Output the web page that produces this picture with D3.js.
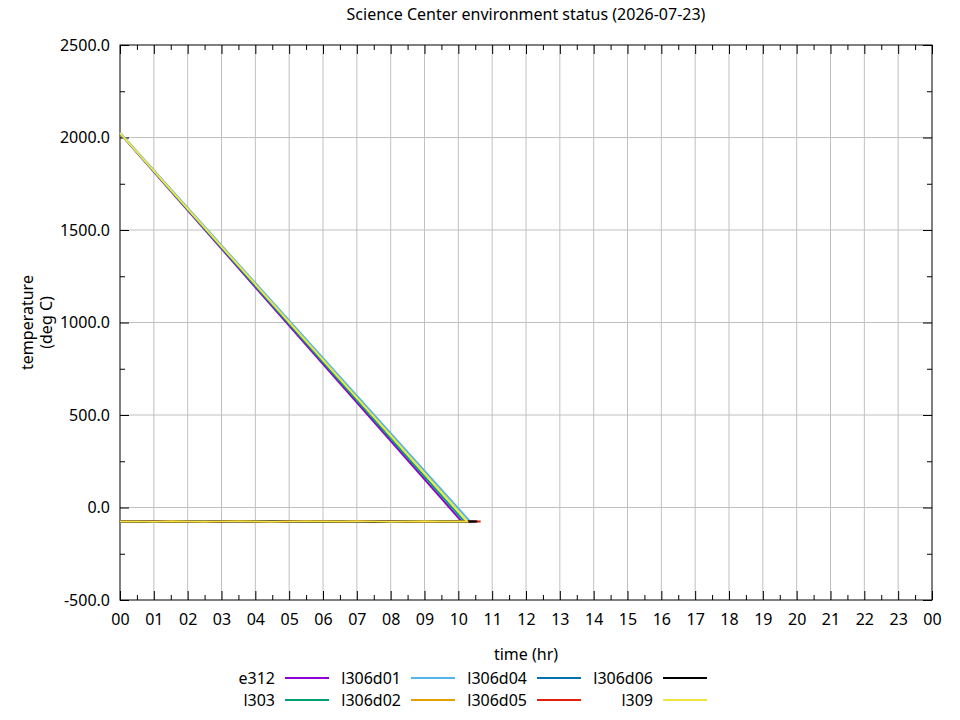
<!DOCTYPE html>
<html>
<head>
<meta charset="utf-8">
<script src="https://cdn.jsdelivr.net/npm/d3@7"></script>
<style>
    body { margin: 0; background: #fff; }
    text { font-family: "Noto Sans", sans-serif; }
</style>
</head>
<body>
<script>
// series names, in legend / draw order
const seriesNames = ['e312', 'l303', 'l306d01', 'l306d02', 'l306d04', 'l306d05', 'l306d06', 'l309'];
const seriesColors = ['#9400d3', '#009e73', '#56b4e9', '#e69f00', '#0072b2', '#e51e10', '#000000', '#f0e442'];

// sample times (hr)
const hours = [0, 0.5, 1, 1.5, 2, 2.5, 3, 3.5, 4, 4.5, 5, 5.5, 6, 6.5, 7, 7.5, 8, 8.5, 9, 9.5, 10];

// temperatures (deg C) at the sample times
const e312    = [-76, -75, -77, -74, -76, -78, -75, -74, -76, -77, -75, -74, -77, -76, -74, -75, -77, -76, -74, -76, -75];
const l303    = [-75, -76, -76, -75, -77, -77, -74, -75, -75, -78, -76, -73, -76, -77, -75, -74, -76, -77, -75, -75, -76];
const l306d01 = [-77, -74, -76, -75, -75, -76, -76, -73, -77, -76, -74, -75, -78, -75, -75, -76, -76, -75, -73, -77, -76];
const l306d02 = [-76, -76, -78, -74, -76, -77, -75, -74, -75, -77, -76, -74, -76, -76, -74, -76, -78, -76, -75, -76, -74];
const l306d04 = [-75, -75, -77, -76, -75, -78, -74, -75, -76, -76, -75, -75, -77, -75, -75, -75, -77, -75, -74, -75, -76];
const l306d05 = [-74, -76, -76, -74, -77, -77, -76, -73, -77, -77, -74, -74, -76, -77, -73, -76, -76, -77, -74, -77, -75];
const l306d06 = [-76, -75, -77, -75, -76, -77, -75, -74, -76, -76, -75, -74, -77, -76, -75, -75, -77, -76, -75, -76, -76];
const l309    = [-76, -75, -77, -74, -76, -77, -75, -74, -76, -77, -75, -74, -76, -76, -74, -75, -77, -76, -74, -76, -76];
const seriesValues = [e312, l303, l306d01, l306d02, l306d04, l306d05, l306d06, l309];

// last reading of each series
const endHours  = [10.1, 10.18, 10.35, 10.5, 10.52, 10.66, 10.56, 10.27];
const endValues = [-76, -76, -76, -76, -76, -76, -76, -76];
// reading logged against 00 after the last one (null = none)
const wrapValues = [2022, 2024, 2026, null, null, null, null, 2024];

// axis ticks
const xTicks = d3.range(0, 25);
const xMinorTicks = d3.range(0.5, 24, 1);
const yTicks = [-500, 0, 500, 1000, 1500, 2000, 2500];
const yMinorTicks = [-250, 250, 750, 1250, 1750, 2250];

const fontSize = 16;

/**
 * Build the svg and scales
 */
const initChart = () => {
    let width = 960, height = 720;
    let margin = {top: 45, right: 28, bottom: 120, left: 120};
    let svg = d3.select('body').append('svg')
        .attr('width', width)
        .attr('height', height);
    let x = d3.scaleLinear().domain([0, 24]).range([margin.left, width - margin.right]);
    let y = d3.scaleLinear().domain([-500, 2500]).range([height - margin.bottom, margin.top]);
    return {svg, x, y, width, height, margin};
};

/**
 * Grid, frame, ticks and labels
 */
const renderAxes = ({svg, x, y}) => {
    let [x0, x1] = x.range(), [y0, y1] = y.range();

    // grid
    let grid = svg.append('g').attr('stroke', '#c0c0c0').attr('stroke-width', 1);
    grid.selectAll('.gx').data(xTicks.slice(1, -1)).enter().append('line')
        .attr('x1', d => x(d)).attr('x2', d => x(d))
        .attr('y1', y1).attr('y2', y0);
    grid.selectAll('.gy').data(yTicks.slice(1, -1)).enter().append('line')
        .attr('x1', x0).attr('x2', x1)
        .attr('y1', d => y(d)).attr('y2', d => y(d));

    let fmtHour = h => String(h % 24).padStart(2, '0');
    let fmtTemp = v => v.toFixed(1); // plain hyphen for negatives

    // bottom
    svg.append('g')
        .attr('transform', `translate(0,${y0})`)
        .call(d3.axisBottom(x).tickValues(xTicks).tickFormat(fmtHour).tickSizeInner(-9).tickSizeOuter(0).tickPadding(14))
        .call(g => g.select('.domain').remove());
    svg.append('g')
        .attr('transform', `translate(0,${y0})`)
        .call(d3.axisBottom(x).tickValues(xMinorTicks).tickFormat('').tickSizeInner(-5).tickSizeOuter(0))
        .call(g => g.select('.domain').remove());
    // top (mirror)
    svg.append('g')
        .attr('transform', `translate(0,${y1})`)
        .call(d3.axisTop(x).tickValues(xTicks).tickFormat('').tickSizeInner(-9).tickSizeOuter(0))
        .call(g => g.select('.domain').remove());
    svg.append('g')
        .attr('transform', `translate(0,${y1})`)
        .call(d3.axisTop(x).tickValues(xMinorTicks).tickFormat('').tickSizeInner(-5).tickSizeOuter(0))
        .call(g => g.select('.domain').remove());

    // left
    svg.append('g')
        .attr('transform', `translate(${x0},0)`)
        .call(d3.axisLeft(y).tickValues(yTicks).tickFormat(fmtTemp).tickSizeInner(-9).tickSizeOuter(0).tickPadding(10))
        .call(g => g.select('.domain').remove());
    svg.append('g')
        .attr('transform', `translate(${x0},0)`)
        .call(d3.axisLeft(y).tickValues(yMinorTicks).tickFormat('').tickSizeInner(-5).tickSizeOuter(0))
        .call(g => g.select('.domain').remove());
    // right (mirror)
    svg.append('g')
        .attr('transform', `translate(${x1},0)`)
        .call(d3.axisRight(y).tickValues(yTicks).tickFormat('').tickSizeInner(-9).tickSizeOuter(0))
        .call(g => g.select('.domain').remove());
    svg.append('g')
        .attr('transform', `translate(${x1},0)`)
        .call(d3.axisRight(y).tickValues(yMinorTicks).tickFormat('').tickSizeInner(-5).tickSizeOuter(0))
        .call(g => g.select('.domain').remove());

    svg.selectAll('.tick text')
        .attr('font-family', '"Noto Sans", sans-serif')
        .attr('font-size', fontSize)
        .attr('fill', '#000');

    // frame
    svg.append('rect')
        .attr('x', x0).attr('y', y1)
        .attr('width', x1 - x0).attr('height', y0 - y1)
        .attr('fill', 'none').attr('stroke', '#000').attr('stroke-width', 1);

    // title
    svg.append('text')
        .attr('x', (x0 + x1) / 2).attr('y', 20)
        .attr('text-anchor', 'middle').attr('font-size', fontSize)
        .text('Science Center environment status (2026-07-23)');

    // x label
    svg.append('text')
        .attr('x', (x0 + x1) / 2).attr('y', 660)
        .attr('text-anchor', 'middle').attr('font-size', fontSize)
        .text('time (hr)');

    // y label, two lines
    let cy = (y0 + y1) / 2;
    svg.append('text')
        .attr('transform', `translate(33,${cy}) rotate(-90)`)
        .attr('text-anchor', 'middle').attr('font-size', fontSize)
        .text('temperature');
    svg.append('text')
        .attr('transform', `translate(52,${cy}) rotate(-90)`)
        .attr('text-anchor', 'middle').attr('font-size', fontSize)
        .text('(deg C)');
};

/**
 * Data lines and legend
 */
const renderSeries = ({svg, x, y}) => {
    let series = seriesNames.map((name, i) => {
        let pts = hours.map((h, j) => [h, seriesValues[i][j]]);
        pts.push([endHours[i], endValues[i]]);
        if (wrapValues[i] !== null) pts.push([0, wrapValues[i]]);
        return {name, color: seriesColors[i], pts};
    });

    let line = d3.line().x(d => x(d[0])).y(d => y(d[1]));

    svg.append('g').selectAll('path')
        .data(series)
        .enter()
        .append('path')
        .attr('d', d => line(d.pts))
        .attr('fill', 'none')
        .attr('stroke', d => d.color)
        .attr('stroke-width', 2)
        .attr('stroke-linejoin', 'round');

    // legend: 4 columns x 2 rows, filled column by column
    let colRight = [275, 401, 527, 653], rowY = [678, 700];
    let legend = svg.append('g').selectAll('g')
        .data(series)
        .enter()
        .append('g')
        .attr('transform', (d, i) => `translate(${colRight[Math.floor(i / 2)]},${rowY[i % 2]})`);
    legend.append('text')
        .attr('text-anchor', 'end')
        .attr('dy', '0.35em')
        .attr('font-size', fontSize)
        .text(d => d.name);
    legend.append('line')
        .attr('x1', 10).attr('x2', 54)
        .attr('stroke', d => d.color)
        .attr('stroke-width', 2);
};

let chart = initChart();
renderAxes(chart);
renderSeries(chart);
</script>
</body>
</html>
